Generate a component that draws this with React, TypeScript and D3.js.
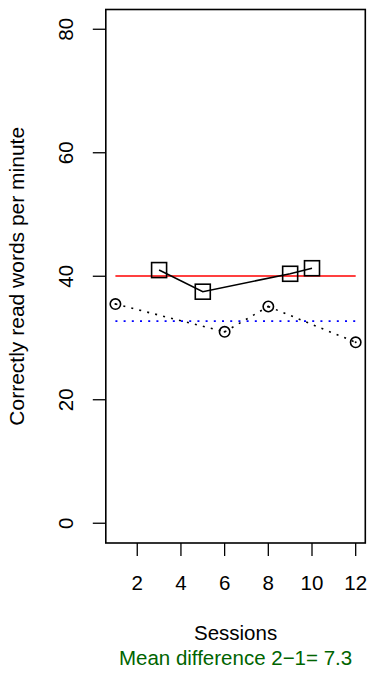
import React from "react";
import * as d3 from "d3";

// Phase 1 (circles) and phase 2 (squares) sessions and reading rates
const phase1Sessions = [1, 6, 8, 12];
const phase1Values = [35.5, 31.0, 35.1, 29.3];
const phase2Sessions = [3, 5, 9, 10];
const phase2Values = [41.0, 37.5, 40.4, 41.3];

const xTicks = [2, 4, 6, 8, 10, 12];
const yTicks = [0, 20, 40, 60, 80];

const W = 370;
const H = 675;
const FONT = "'Liberation Sans', Arial, Helvetica, sans-serif";
const FS = 20.5;

export default function App() {
  const x = d3.scaleLinear().domain([0.56, 12.44]).range([105.8, 365.3]);
  const y = d3.scaleLinear().domain([-3.2, 83.2]).range([543, 9.5]);

  const mean1 = d3.mean(phase1Values) as number;
  const mean2 = d3.mean(phase2Values) as number;
  const diffLabel = `Mean difference 2\u22121= ${d3.format(".1f")(mean2 - mean1)}`;

  const pts1 = phase1Sessions.map((s, i) => [x(s), y(phase1Values[i])] as [number, number]);
  const pts2 = phase2Sessions.map((s, i) => [x(s), y(phase2Values[i])] as [number, number]);
  const line = d3.line();

  const [x0, x1] = x.range();
  const [yb, yt] = y.range();
  const sq = 15;

  return (
    <div style={{ position: "fixed", left: 0, top: 0 }}>
      <svg width={W} height={H} style={{ display: "block", background: "#fff" }} fontFamily={FONT}>
        {/* phase means */}
        <line x1={x(1)} x2={x(12)} y1={y(mean2)} y2={y(mean2)} stroke="#ff0000" strokeWidth={1.6} />
        <line x1={x(1)} x2={x(12)} y1={y(mean1)} y2={y(mean1)} stroke="#0000ff" strokeWidth={1.6} strokeDasharray="2 6.2" />

        {/* phase 1: dotted connector and open circles */}
        {pts1.slice(1).map((p, i) => (
          <path key={`s1-${i}`} d={line([pts1[i], p]) as string} fill="none" stroke="#000" strokeWidth={1.6} strokeDasharray="2 6.2" />
        ))}
        {pts1.map((p, i) => (
          <g key={`c-${i}`}>
            <circle cx={p[0]} cy={p[1]} r={5.2} fill="none" stroke="#000" strokeWidth={1.6} />
            <circle cx={p[0]} cy={p[1]} r={1} fill="#000" />
          </g>
        ))}

        {/* phase 2: solid connector and open squares */}
        <path d={line(pts2) as string} fill="none" stroke="#000" strokeWidth={1.6} />
        {pts2.map((p, i) => (
          <rect key={`q-${i}`} x={p[0] - sq / 2} y={p[1] - sq / 2} width={sq} height={sq} fill="none" stroke="#000" strokeWidth={1.6} />
        ))}

        {/* frame */}
        <rect x={x0} y={yt} width={x1 - x0} height={yb - yt} fill="none" stroke="#000" strokeWidth={1.6} />

        {/* x axis */}
        {xTicks.map((t) => (
          <g key={`xt-${t}`}>
            <line x1={x(t)} x2={x(t)} y1={yb} y2={yb + 13} stroke="#000" strokeWidth={1.3} />
            <text x={x(t)} y={590} fontSize={FS} textAnchor="middle" fill="#000">{t}</text>
          </g>
        ))}

        {/* y axis */}
        {yTicks.map((t) => (
          <g key={`yt-${t}`}>
            <line x1={x0 - 13} x2={x0} y1={y(t)} y2={y(t)} stroke="#000" strokeWidth={1.3} />
            <text transform={`translate(73,${y(t)}) rotate(-90)`} fontSize={FS} textAnchor="middle" fill="#000">{t}</text>
          </g>
        ))}

        {/* titles */}
        <text x={(x0 + x1) / 2} y={640} fontSize={FS} textAnchor="middle" fill="#000">Sessions</text>
        <text x={(x0 + x1) / 2} y={665} fontSize={FS} textAnchor="middle" fill="#006400">{diffLabel}</text>
        <text transform={`translate(24,${(yt + yb) / 2}) rotate(-90)`} fontSize={21} textAnchor="middle" fill="#000">
          Correctly read words per minute
        </text>
      </svg>
    </div>
  );
}
